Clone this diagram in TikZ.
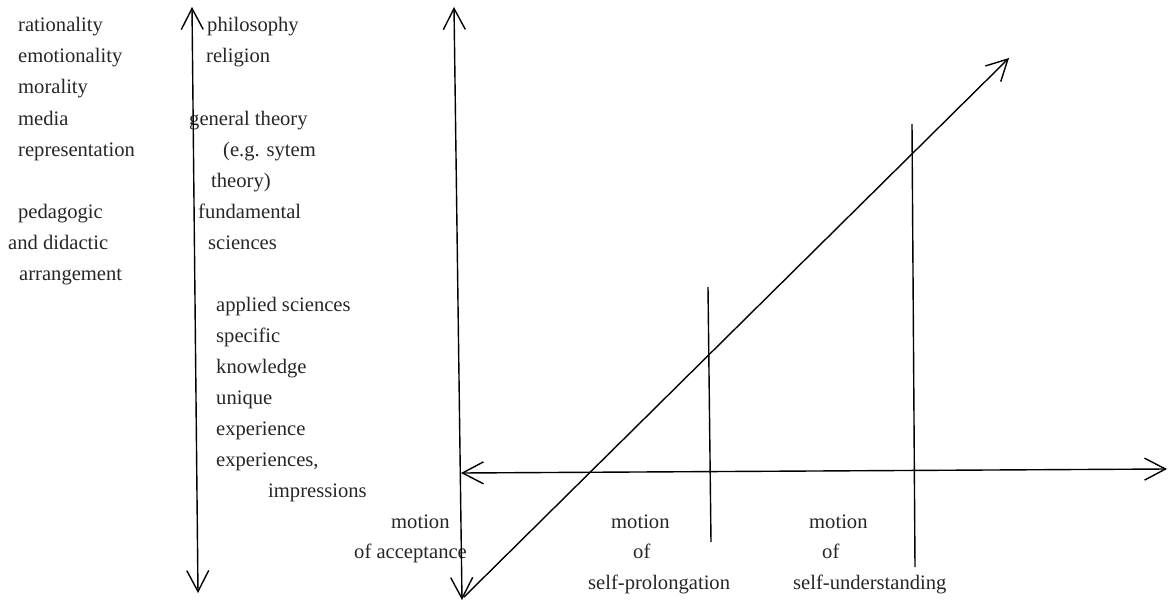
\documentclass[tikz,border=0pt]{standalone}
\usepackage{fontspec}
\setmainfont{Liberation Serif}
\usetikzlibrary{arrows.meta}
\begin{document}
\begin{tikzpicture}[x=1pt,y=-1pt,
  lbl/.style={anchor=base west,inner sep=0pt,font=\fontsize{20.6}{24}\selectfont,text=black!85},
  barb/.tip={Straight Barb[length=21pt,width=22pt]},
  ax/.style={line width=1.4pt,barb-barb},
  ray/.style={line width=1.4pt,-barb},
  plainline/.style={line width=1.4pt}
]
\useasboundingbox (0,0) rectangle (1168,602);

% left column
\node[lbl] (rat) at (18,32) {rationality};
\node[lbl] (emo) at (18,63) {emotionality};
\node[lbl] (mor) at (18,94) {morality};
\node[lbl] (med) at (18,125) {media};
\node[lbl] (rep) at (18,156) {representation};
\node[lbl] (ped) at (18,218) {pedagogic};
\node[lbl] (did) at (8,249) {and didactic};
\node[lbl] (arr) at (19,280) {arrangement};

% right of first axis
\node[lbl] (phi) at (207,32) {philosophy};
\node[lbl] (rel) at (206,63) {religion};
\node[lbl] (gen) at (189,125) {general theory};
\node[lbl] (eg)  at (223,156) {(e.g. sytem};
\node[lbl] (the) at (211,187) {theory)};
\node[lbl] (fun) at (198,218) {fundamental};
\node[lbl] (sci) at (208,249) {sciences};
\node[lbl] (app) at (216,311) {applied sciences};
\node[lbl] (spe) at (216,342) {specific};
\node[lbl] (kno) at (216,373) {knowledge};
\node[lbl] (uni) at (216,404) {unique};
\node[lbl] (exp) at (216,435) {experience};
\node[lbl] (exs) at (216,466) {experiences,};
\node[lbl] (imp) at (268,497) {impressions};

% bottom labels
\node[lbl] (m1) at (391,528) {motion};
\node[lbl] (a1) at (354,558) {of acceptance};
\node[lbl] (m2) at (611,528) {motion};
\node[lbl] (o2) at (633,558) {of};
\node[lbl] (p2) at (588,589) {self-prolongation};
\node[lbl] (m3) at (809,528) {motion};
\node[lbl] (o3) at (822,558) {of};
\node[lbl] (u3) at (793,589) {self-understanding};

% axes
\coordinate (LT) at (192,7);
\coordinate (LB) at (198,593);
\coordinate (MT) at (454,7);
\coordinate (MB) at (462,600);
\coordinate (HL) at (461,473);
\coordinate (HR) at (1167,469);
\coordinate (DB) at (464,597);
\coordinate (DT) at (1009,58);
\coordinate (V2T) at (708,287);
\coordinate (V2B) at (711,542);
\coordinate (V3T) at (912,124);
\coordinate (V3B) at (915,567);

\draw[ax] (LB) -- (LT);
\draw[ax] (MB) -- (MT);
\draw[ax] (HL) -- (HR);
\draw[ray] (DB) -- (DT);
\draw[plainline] (V2T) -- (V2B);
\draw[plainline] (V3T) -- (V3B);
\end{tikzpicture}
\end{document}
